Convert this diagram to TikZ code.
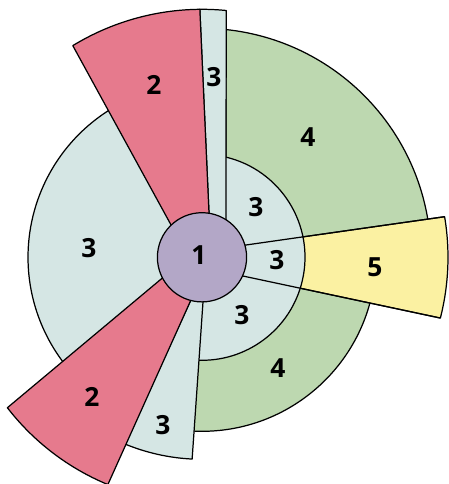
\documentclass[tikz,border=0pt]{standalone}
\usepackage{fontspec}
\setmainfont{Open Sans}
\usepackage{tikz}
\definecolor{Petal}{HTML}{D5E6E4}
\definecolor{Rose}{HTML}{E67A8D}
\definecolor{Leaf}{HTML}{BDD8B0}
\definecolor{Sun}{HTML}{FBF1A2}
\definecolor{Core}{HTML}{B3A7C7}

\begin{document}
\begin{tikzpicture}[x=0.02cm,y=0.02cm,
  part/.style={draw=black,line width=0.7pt,line join=round},
  num/.style={font=\bfseries\fontsize{15}{15}\selectfont}]
  \fill[white] (0,0) rectangle (449,484);
  \clip (0,0) rectangle (449,484);
  \begin{scope}[shift={(202,226.7)}]
    \path[part,fill=Petal] (0,0) -- (121.5:174) arc[start angle=121.5,end angle=217.5,radius=174] -- cycle;
    \path[part,fill=Leaf] (24,40) -- (84:229) arc[start angle=84,end angle=5,radius=229] -- (0,0) -- cycle;
    \path[part,fill=Leaf] (0,0) -- (-5:174) arc[start angle=-5,end angle=-93.2,radius=174] -- cycle;
    \coordinate (s1) at (29.2,10.2);
    \coordinate (s2) at (9.5:246);
    \coordinate (s3) at (-14.3:246);
    \coordinate (s4) at (26.3,-15.6);
    \path[part,fill=Sun] (s1) -- (s2) arc[start angle=9.5,end angle=-14.3,radius=246] -- (s4) -- cycle;
    \path[part,fill=Petal] (0,0) -- (77:103) arc[start angle=77,end angle=-93,radius=103] -- cycle;
    \draw[part] (s1) -- (s2) (s4) -- (s3);
    \path[part,fill=Petal] (7.36,36.3) -- (90.5:248) arc[start angle=90.5,end angle=84.4,radius=248] -- (24,36) -- cycle;
    \path[part,fill=Petal] (-8.7,-37.4) -- (247.5:202) arc[start angle=247.5,end angle=267.2,radius=202] -- (1.55,-36.7) -- cycle;
    \path[part,fill=Rose] (-28.2,27.3) -- (121.4:248) arc[start angle=121.4,end angle=90.5,radius=248] -- (7.36,36.3) -- cycle;
    \path[part,fill=Rose] (-35.9,-17.6) -- (217.7:246) arc[start angle=217.7,end angle=247.5,radius=246] -- (-8.7,-37.4) -- cycle;
    \filldraw[part,fill=Core] (0,0) circle[radius=44.6];

    \node[num] (one) at (-3,2.3) {1};
    \node[num] (rosetop) at (-48,172.3) {2};
    \node[num] (rosebot) at (-110,-139.7) {2};
    \node[num] (stripup) at (12,180.3) {3};
    \node[num] (left) at (-113,9.3) {3};
    \node[num] (innerup) at (54,50.3) {3};
    \node[num] (innermid) at (75,-2.7) {3};
    \node[num] (innerlow) at (40,-57.7) {3};
    \node[num] (stripdown) at (-39,-167.7) {3};
    \node[num] (leafup) at (106,120.3) {4};
    \node[num] (leafdown) at (76,-110.7) {4};
    \node[num] (sun) at (173,-9.7) {5};
  \end{scope}
\end{tikzpicture}
\end{document}
